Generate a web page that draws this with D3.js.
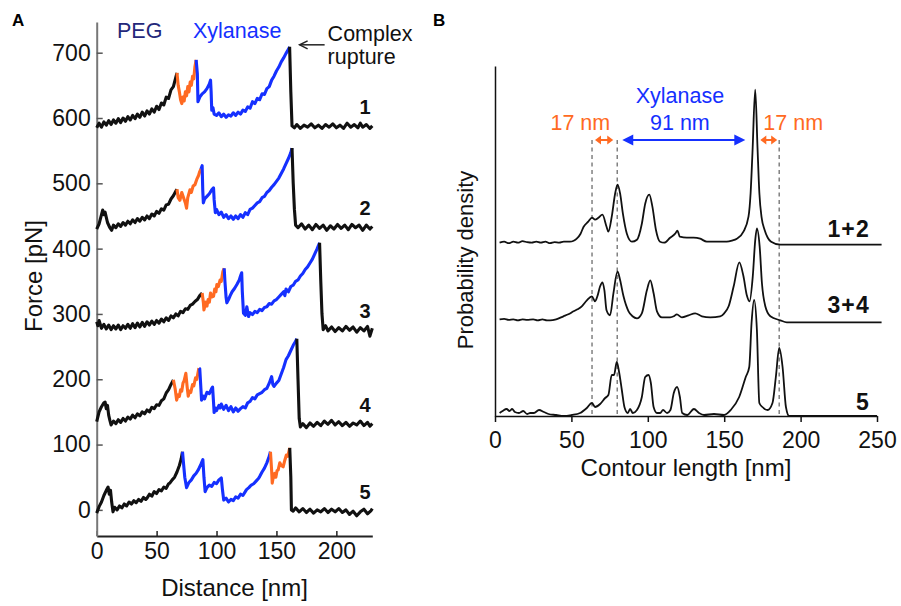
<!DOCTYPE html>
<html>
<head>
<meta charset="utf-8">
<script src="https://cdn.jsdelivr.net/npm/d3@7"></script>
<style>
  body { margin: 0; background: #fff; }
  svg text { font-family: "Liberation Sans", Arial, Helvetica, sans-serif; }
</style>
</head>
<body>
<svg id="chart" width="901" height="606"></svg>
<script>
// ---- panel A: force-distance traces [distance nm, force pN] ----
var t1Peg = [[0,585],[2,592],[4,586],[6,594],[8,589],[10,596],[12,590],[14,597],[16,592],[18,599],[20,593],[22,600],[24,595],[26,602],[28,597],[30,604],[32,599],[34,606],[36,601],[38,609],[40,603],[42,611],[44,606],[46,614],[48,609],[50,618],[52,613],[54,623],[56,620],[58,632],[60,630],[62,643],[64,648],[66,662],[67,669]];
var t1Link = [[67,669],[68,650],[69,640],[70,628],[71,622],[72,632],[73,626],[74,640],[75,634],[76,648],[77,640],[78,655],[79,650],[80,664],[81,660],[82,679],[83,689]];
var t1Xyl = [[83,689],[84,668],[84.5,625],[86,632],[88,637],[90,640],[92,645],[94,652],[95,658],[95.5,640],[96,612],[97,616],[98,606],[100,604],[102,608],[104,602],[106,606],[108,601],[110,605],[112,603],[114,608],[116,604],[118,609],[120,606],[122,612],[124,610],[126,617],[128,615],[130,625],[132,622],[134,630],[136,628],[138,637],[140,636],[142,645],[144,648],[146,658],[148,664],[150,672],[152,678],[154,686],[156,692],[158,699],[160,705],[161,709]];
var t1Tail = [[161,709],[162,640],[163,588],[165,585],[167,590],[170,584],[173,589],[176,586],[179,591],[182,585],[185,589],[188,584],[191,590],[194,586],[197,591],[200,585],[203,589],[206,584],[209,592],[212,586],[215,590],[218,585],[220,592],[222,586],[225,590],[228,584],[230,588]];

var t2Peg = [[0,430],[2,438],[4,452],[5,459],[6,452],[7,456],[9,440],[11,432],[12.5,428],[14,436],[16,432],[18,438],[20,434],[22,440],[24,436],[26,442],[28,438],[30,444],[32,440],[34,446],[36,442],[38,448],[40,444],[42,450],[44,446],[46,453],[48,450],[50,457],[52,454],[54,461],[56,459],[58,467],[60,468],[62,476],[64,481],[66,488],[67,491]];
var t2Link = [[67,491],[68,478],[69.4,474],[71,486],[72.5,478],[74,470],[75,462],[76,478],[77.8,490],[79,486],[80.5,496],[82,498],[83.5,506],[85,512],[86,518],[87,522]];
var t2Xyl = [[87,522],[88,527],[88.5,490],[89,470],[90,476],[92,480],[94,484],[96,490],[97.5,493],[98,475],[99,455],[100,460],[102,452],[104,456],[106,448],[108,452],[110,446],[112,450],[114,445],[116,450],[118,446],[120,452],[122,448],[124,455],[126,452],[128,460],[130,462],[132,466],[134,470],[136,472],[138,478],[140,480],[142,486],[144,489],[146,494],[148,498],[150,503],[152,508],[154,515],[156,522],[158,530],[160,538],[162,547],[163,554]];
var t2Tail = [[163,554],[164,500],[165,460],[166,436],[168,432],[171,438],[174,430],[177,436],[180,429],[183,437],[186,431],[189,436],[192,428],[195,435],[198,430],[201,437],[204,431],[207,436],[210,429],[213,437],[216,432],[219,436],[222,428],[225,436],[228,430],[230,434]];

var t3Peg = [[0,288],[1,282],[2,290],[4,278],[6,284],[8,277],[10,283],[12,276],[14,282],[16,277],[18,283],[20,276],[22,282],[24,278],[26,284],[28,278],[30,285],[32,279],[34,286],[36,280],[38,287],[40,281],[42,288],[44,283],[46,289],[48,284],[50,290],[52,286],[54,292],[56,288],[58,294],[60,290],[62,297],[64,294],[66,300],[68,297],[70,304],[72,302],[74,308],[76,307],[78,313],[80,315],[82,319],[84,322],[86,328],[88,332]];
var t3Link = [[88,332],[89,318],[89.5,306],[91,318],[92,312],[93,322],[94,318],[95,332],[96,326],[97.5,327],[98.5,338],[99.5,334],[100.3,345],[101.5,342],[103,352],[104,350],[105.3,365],[106.4,370]];
var t3Xyl = [[106.4,370],[107,350],[108,325],[108.6,317],[110,322],[111.4,328],[113,334],[115,339],[117,345],[119,352],[120,358],[121,363],[121.5,335],[122.5,301],[124,298],[125.3,311],[126.7,296],[128,302],[130,299],[132,304],[134,302],[136,307],[138,305],[140,310],[142,311],[144,316],[146,315],[148,320],[150,322],[152,326],[154,330],[156,334],[157,328],[158,338],[160,334],[162,342],[164,344],[166,350],[168,352],[170,358],[172,362],[174,368],[176,372],[178,378],[180,384],[182,392],[184,400],[186,409]];
var t3Tail = [[186,409],[187,350],[188,300],[189,276],[191,282],[193,274],[196,280],[199,273],[202,279],[205,274],[208,281],[211,275],[214,280],[217,272],[220,279],[223,274],[226,281],[228,266],[230,278]];

var t4Peg = [[0,135],[2,150],[4,158],[6,164],[7,165],[8,155],[9,160],[10,145],[11,137],[12,130],[14,136],[16,132],[18,138],[20,134],[22,140],[24,136],[26,142],[28,139],[30,145],[32,141],[34,147],[36,144],[38,150],[40,147],[42,153],[44,150],[46,157],[48,155],[50,161],[52,160],[54,167],[56,170],[58,179],[60,184],[62,192],[64,199]];
var t4Link = [[64,199],[65.5,185],[66.7,168],[68,176],[69,174],[70,184],[71,182],[72,194],[73,198],[74.4,209],[75.5,188],[76.4,174],[77.5,182],[78.5,180],[80,192],[81,190],[82.5,202],[83.5,200],[85.3,217]];
var t4Xyl = [[85.3,217],[86,216],[87,185],[87.5,168],[89,174],[90,170],[92,180],[94,178],[96,186],[96.7,188],[97.5,165],[98,149],[99,156],[100,152],[102,160],[103,156],[104,162],[106,154],[108,160],[110,152],[112,158],[114,150],[116,156],[118,151],[120,155],[122,158],[124,156],[126,164],[128,166],[130,172],[132,170],[134,176],[136,178],[138,180],[140,184],[142,186],[144,194],[146,204],[147,192],[148,189],[150,194],[152,198],[154,208],[156,218],[158,230],[160,236],[162,244],[164,252],[166,258],[167,262]];
var t4Tail = [[167,262],[168,200],[169,140],[170,127],[172,132],[175,126],[178,133],[181,128],[184,134],[187,129],[190,136],[193,131],[196,137],[199,130],[202,135],[205,129],[208,134],[211,128],[214,133],[217,130],[220,136],[223,129],[226,134],[228,128],[230,132]];

var t5Peg = [[0,-5],[2,5],[4,12],[6,22],[8,30],[9.5,35],[10.5,24],[11.5,30],[12.5,12],[13.6,-3],[15,4],[17,0],[19,6],[21,3],[23,9],[25,6],[27,12],[29,9],[31,14],[33,11],[35,16],[37,13],[39,19],[41,16],[42,18],[44,24],[46,21],[48,28],[50,25],[52,31],[54,29],[56,35],[58,33],[60,40],[61,41],[63,46],[65,50],[67,58],[69,68],[70.5,78],[71.6,89]];
var t5Xyl = [[71.6,89],[72.5,70],[73.5,50],[75,34],[77,42],[79,46],[81,52],[83,56],[85,62],[87,70],[88.6,77],[89.5,50],[90.5,28],[92,34],[94,38],[96,36],[98,42],[100,40],[102,46],[104,49],[105,30],[106,15],[108,18],[110,12],[112,16],[114,14],[116,20],[118,18],[120,24],[122,22],[124,28],[125,31],[127,34],[129,38],[131,40],[133,44],[135,48],[136,51],[138,58],[140,64],[142,72],[144,82],[145,89]];
var t5Link = [[145,89],[146,60],[146.5,41],[147.5,52],[148.6,56],[149.5,50],[150.5,60],[151.4,61],[152.8,72],[154,68],[155.6,66],[157,76],[158.3,84],[159.5,82],[161.1,95]];
var t5Tail = [[161.1,95],[162,50],[162.5,0],[164,-2],[166,3],[169,-3],[172,2],[175,-4],[178,1],[181,-5],[184,0],[187,-3],[190,2],[193,-4],[196,1],[199,-3],[202,2],[205,-4],[208,0],[211,-7],[214,-2],[217,-9],[220,-3],[223,1],[226,-6],[229,-1],[230,2]];

var traceNames = ["1", "2", "3", "4", "5"];
var forceTicks = [0, 100, 200, 300, 400, 500, 600, 700];
var distTicks = [0, 50, 100, 150, 200];

// ---- panel B: contour length histograms [length nm, density a.u.] ----
var dens12 = [[3,0],[6,0.01],[9,-0.005],[12,0.01],[15,0],[18,0.015],[21,0.005],[24,0],[27,0.01],[30,0],[33,0.01],[36,-0.005],[39,0.005],[42,0],[45,0.01],[49,0.01],[51.5,0.02],[53.5,0.04],[56,0.09],[58,0.16],[61,0.21],[63.5,0.25],[65.5,0.23],[67.7,0.25],[70.3,0.28],[73,0.16],[74.2,0.11],[76.4,0.26],[78.6,0.49],[80.2,0.58],[81.9,0.49],[83.7,0.29],[86.3,0.09],[89.6,0.01],[92.9,0.03],[96.1,0.19],[98.3,0.39],[101,0.48],[103,0.36],[105.3,0.13],[108,0.01],[110.7,0],[114.6,0.05],[117.9,0.09],[119.4,0.12],[121,0.06],[125.5,0.05],[130,0.05],[134.3,0.04],[138.6,0.01],[145,0.01],[151.7,0.01],[155,0.02],[158.3,0.04],[162.6,0.11],[165.9,0.26],[167.3,0.5],[168.5,0.9],[170.3,1.53],[171.8,0.95],[173,0.5],[174.5,0.25],[176.4,0.13],[178.5,0.05],[180.7,0.01],[186.7,-0.02],[253,-0.02]];
var dens34 = [[3,0],[6,0.005],[9,-0.005],[12,0],[15,-0.01],[18,0],[21,-0.005],[25,0],[28,-0.01],[31,0],[34,-0.01],[36,-0.01],[40,0],[44.8,0.03],[48,0.05],[51.4,0.08],[54,0.1],[56.8,0.13],[60.1,0.19],[63.4,0.23],[65.5,0.18],[67,0.23],[68.8,0.33],[70.3,0.37],[71.6,0.29],[73,0.09],[75.3,0.04],[77.5,0.26],[80.2,0.48],[81.9,0.39],[84.1,0.23],[87.4,0.08],[90,0.03],[92.9,0.01],[96.1,0.06],[99.4,0.29],[101.6,0.39],[103.8,0.26],[106,0.08],[109.2,0.02],[114.6,0.02],[117,0.03],[119,0.05],[122.3,0.02],[126.7,0.04],[131,0.06],[135.4,0.03],[140.9,0.02],[147.4,0.03],[150,0.06],[152.9,0.13],[156.2,0.33],[159.9,0.57],[162.6,0.43],[164.8,0.24],[166.6,0.18],[168.7,0.43],[170.3,0.79],[171.4,0.91],[173.2,0.73],[174.7,0.36],[176.9,0.13],[180.2,0.03],[186.7,-0.01],[191,-0.03],[253,-0.03]];
var dens5 = [[3,0.03],[5,0.05],[7.6,0.07],[9.5,0.05],[11.2,0.07],[13,0.04],[15.7,0.03],[18.5,0.05],[21,0.02],[23,0.03],[25.5,0.03],[28.8,0.06],[32,0.04],[35,0.02],[40,0.01],[44.8,0],[50.2,0.01],[55.7,0.03],[60.1,0.08],[63.4,0.13],[65.5,0.09],[68.8,0.12],[72.1,0.18],[74.2,0.21],[76.4,0.41],[77.9,0.41],[79.7,0.54],[81.2,0.44],[83,0.26],[84.7,0.09],[86.9,0.03],[88.4,0.07],[90.2,0.03],[92.9,0.06],[96.1,0.19],[98.3,0.39],[100.5,0.41],[102,0.33],[103.8,0.09],[106,0.03],[108.1,0.03],[110,0.06],[112.6,0.03],[114.8,0.06],[117,0.23],[119.2,0.29],[121,0.19],[122.5,0.03],[125.8,0.01],[130.2,0.07],[133.5,0.03],[136.8,0.01],[143.3,0.02],[149.9,0.01],[154.3,0.06],[159.8,0.19],[164.1,0.39],[166.4,0.49],[167.9,0.93],[169.6,1.16],[171.4,0.86],[173,0.13],[175,0.09],[178.4,0.06],[181.6,0.13],[183.8,0.39],[186,0.68],[188.2,0.49],[190.4,0.09],[192.5,0],[250,0]];
var histNames = ["1+2", "3+4", "5"];
var histOffsets = [1.733, 0.967, 0];
var markerLengths = [63.5, 80, 186];
var contourTicks = [0, 50, 100, 150, 200, 250];

var BLACK = "#111", ORANGE = "#ff6a22", BLUE = "#1530ff", NAVY = "#24287a";

var svg = d3.select("#chart");

// ================= panel A =================
var xA = d3.scaleLinear().domain([0, 230]).range([96.7, 372.3]);
var yA = d3.scaleLinear().domain([-40, 747]).range([536, 22]);

var gx = svg.append("g").attr("transform", "translate(0,536)")
  .call(d3.axisBottom(xA).tickValues(distTicks).tickSize(-5).tickSizeOuter(0).tickPadding(7));
gx.select(".domain").attr("stroke", "#222").attr("stroke-width", 2);
gx.selectAll(".tick line").attr("stroke", "#222").attr("stroke-width", 1.5);
gx.selectAll("text").attr("font-size", 23).attr("fill", "#111");

var gy = svg.append("g").attr("transform", "translate(96.7,0)")
  .call(d3.axisLeft(yA).tickValues(forceTicks).tickSize(-6).tickSizeOuter(0).tickPadding(6));
gy.select(".domain").attr("stroke", "#777").attr("stroke-width", 2);
gy.selectAll(".tick line").attr("stroke", "#555").attr("stroke-width", 1.5);
gy.selectAll("text").attr("font-size", 23).attr("fill", "#111");

var lineA = d3.line().x(function(d) { return xA(d[0]); }).y(function(d) { return yA(d[1]); });

var traces = [
  [[t1Peg, BLACK], [t1Link, ORANGE], [t1Xyl, BLUE], [t1Tail, BLACK]],
  [[t2Peg, BLACK], [t2Link, ORANGE], [t2Xyl, BLUE], [t2Tail, BLACK]],
  [[t3Peg, BLACK], [t3Link, ORANGE], [t3Xyl, BLUE], [t3Tail, BLACK]],
  [[t4Peg, BLACK], [t4Link, ORANGE], [t4Xyl, BLUE], [t4Tail, BLACK]],
  [[t5Peg, BLACK], [t5Xyl, BLUE], [t5Link, ORANGE], [t5Tail, BLACK]]
];

traces.forEach(function(segs, i) {
  segs.forEach(function(s) {
    svg.append("path")
      .datum(s[0])
      .attr("fill", "none")
      .attr("stroke", s[1])
      .attr("stroke-width", 3.1)
      .attr("stroke-linejoin", "round")
      .attr("d", lineA);
  });
  var tail = segs[3][0];
  var base = d3.mean(tail.slice(3), function(d) { return d[1]; });
  svg.append("text")
    .attr("x", xA(224)).attr("y", yA(base + 18))
    .attr("text-anchor", "middle")
    .attr("font-size", 20).attr("font-weight", "bold").attr("fill", "#111")
    .text(traceNames[i]);
});

// axis titles
svg.append("text")
  .attr("transform", "translate(42,276) rotate(-90)")
  .attr("text-anchor", "middle").attr("font-size", 24).attr("fill", "#111")
  .text("Force [pN]");
svg.append("text")
  .attr("x", xA(115)).attr("y", 596)
  .attr("text-anchor", "middle").attr("font-size", 24).attr("fill", "#111")
  .text("Distance [nm]");

// legend text and rupture arrow
svg.append("text").attr("x", 117).attr("y", 38).attr("font-size", 21.5).attr("fill", NAVY).text("PEG");
svg.append("text").attr("x", 193).attr("y", 38).attr("font-size", 21.5).attr("fill", BLUE).text("Xylanase");

var rupt = t1Xyl[t1Xyl.length - 1];
var tipX = xA(rupt[0]) + 10, tipY = yA(rupt[1]) - 2;
svg.append("line").attr("x1", tipX).attr("y1", tipY).attr("x2", tipX + 25).attr("y2", tipY)
  .attr("stroke", "#222").attr("stroke-width", 1.5);
svg.append("path")
  .attr("d", "M" + (tipX + 8) + "," + (tipY - 4) + "L" + tipX + "," + tipY + "L" + (tipX + 8) + "," + (tipY + 4))
  .attr("fill", "none").attr("stroke", "#222").attr("stroke-width", 1.5);
svg.append("text").attr("x", tipX + 28).attr("y", 41).attr("font-size", 21.5).attr("fill", "#111").text("Complex");
svg.append("text").attr("x", tipX + 28).attr("y", 63.5).attr("font-size", 21.5).attr("fill", "#111").text("rupture");

svg.append("text").attr("x", 12).attr("y", 26).attr("font-size", 17).attr("font-weight", "bold").text("A");

// ================= panel B =================
var xB = d3.scaleLinear().domain([0, 250]).range([495, 877]);
var yB = d3.scaleLinear().domain([0, 3.5]).range([416, 66]);

// dashed reference lines
markerLengths.forEach(function(v) {
  svg.append("line")
    .attr("x1", xB(v)).attr("x2", xB(v)).attr("y1", 140).attr("y2", 416)
    .attr("stroke", "#808080").attr("stroke-width", 1.5).attr("stroke-dasharray", "4,3.5");
});

var lineB = function(off) {
  return d3.line().curve(d3.curveMonotoneX)
    .x(function(d) { return xB(d[0]); })
    .y(function(d) { return yB(d[1] + off); });
};

[dens12, dens34, dens5].forEach(function(dat, i) {
  svg.append("path")
    .datum(dat)
    .attr("fill", "none").attr("stroke", BLACK).attr("stroke-width", 1.8)
    .attr("d", lineB(histOffsets[i]));
  svg.append("text")
    .attr("x", 870).attr("y", yB(histOffsets[i]) - 6)
    .attr("text-anchor", "end").attr("font-size", 23).attr("font-weight", "bold")
    .attr("letter-spacing", 1.2).attr("fill", "#111")
    .text(histNames[i]);
});

var gxB = svg.append("g").attr("transform", "translate(0,416)")
  .call(d3.axisBottom(xB).tickValues(contourTicks).tickSize(6).tickSizeOuter(0).tickPadding(10));
gxB.select(".domain").attr("stroke", "#111").attr("stroke-width", 1.5);
gxB.selectAll(".tick line").attr("stroke", "#111").attr("stroke-width", 1.5);
gxB.selectAll("text").attr("font-size", 23).attr("fill", "#111");

var gyB = svg.append("g").attr("transform", "translate(495,0)")
  .call(d3.axisLeft(yB).tickValues([]).tickSizeOuter(0));
gyB.select(".domain").attr("stroke", "#111").attr("stroke-width", 1.5);

svg.append("text")
  .attr("transform", "translate(473,260) rotate(-90)")
  .attr("text-anchor", "middle").attr("font-size", 22).attr("fill", "#111")
  .text("Probability density");
svg.append("text")
  .attr("x", xB(125)).attr("y", 476)
  .attr("text-anchor", "middle").attr("font-size", 24).attr("fill", "#111")
  .text("Contour length [nm]");

// double arrows between reference lengths
function doubleArrow(x1, x2, y, color, hl, hw, sw) {
  svg.append("line").attr("x1", x1 + hl - 1).attr("x2", x2 - hl + 1).attr("y1", y).attr("y2", y)
    .attr("stroke", color).attr("stroke-width", sw);
  svg.append("path").attr("d", "M" + x1 + "," + y + "L" + (x1 + hl) + "," + (y - hw) + "L" + (x1 + hl) + "," + (y + hw) + "Z").attr("fill", color);
  svg.append("path").attr("d", "M" + x2 + "," + y + "L" + (x2 - hl) + "," + (y - hw) + "L" + (x2 - hl) + "," + (y + hw) + "Z").attr("fill", color);
}
var arrowY = 140;
doubleArrow(xB(markerLengths[0]) + 3, xB(markerLengths[1]) - 4, arrowY, ORANGE, 6, 4.5, 2);
doubleArrow(xB(markerLengths[1]) + 5, xB(171) - 11, arrowY, BLUE, 11, 5.5, 2);
doubleArrow(xB(171) + 4, xB(markerLengths[2]) - 2, arrowY, ORANGE, 6, 4.5, 2);

svg.append("text").attr("x", xB(markerLengths[1]) - 7).attr("y", 130).attr("text-anchor", "end")
  .attr("font-size", 21.5).attr("fill", ORANGE).text("17 nm");
svg.append("text").attr("x", xB(171) + 7).attr("y", 130)
  .attr("font-size", 21.5).attr("fill", ORANGE).text("17 nm");
svg.append("text").attr("x", xB(121)).attr("y", 130).attr("text-anchor", "middle")
  .attr("font-size", 21.5).attr("fill", BLUE).text("91 nm");
svg.append("text").attr("x", xB(121)).attr("y", 103).attr("text-anchor", "middle")
  .attr("font-size", 21.5).attr("fill", BLUE).text("Xylanase");

svg.append("text").attr("x", 433).attr("y", 26).attr("font-size", 17).attr("font-weight", "bold").text("B");
</script>
</body>
</html>
